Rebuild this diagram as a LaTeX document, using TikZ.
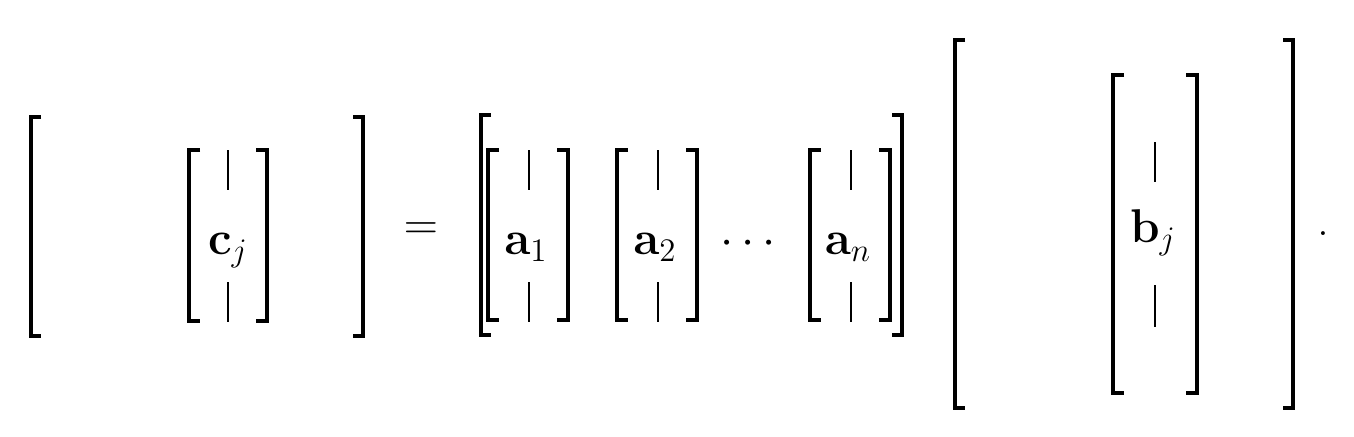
\documentclass[tikz,border=0pt]{standalone}
\usepackage{amsmath}
\usepackage{tikz}

\begin{document}
\begin{tikzpicture}[x=0.02cm,y=-0.02cm,
  brk/.style={line width=2.2pt,line join=miter},
  bar/.style={line width=1.3pt},
  every node/.style={font=\huge,scale=1.3,inner sep=0pt}]
  \useasboundingbox (0,0) rectangle (1354,436);
  % C
  \draw[brk] (41,117) -- (31,117) -- (31,336) -- (41,336);
  \draw[brk] (353,117) -- (363,117) -- (363,336) -- (353,336);
  \draw[brk] (200,150) -- (189,150) -- (189,321) -- (200,321);
  \draw[brk] (256,150) -- (267,150) -- (267,321) -- (256,321);
  \draw[bar] (228,150) -- (228,190);
  \draw[bar] (228,282) -- (228,322);
  \node[anchor=base] at (228,254) (cj) {$\mathbf{c}_j$};
  \node[anchor=base] at (421,239) (eq) {$=$};
  % A
  \draw[brk] (491,115) -- (481,115) -- (481,335) -- (491,335);
  \draw[brk] (892,115) -- (902,115) -- (902,335) -- (892,335);
  \foreach \x/\lab/\nm in {528/1/a1,657/2/a2,850/n/an} {
    \draw[brk] (\x-29,150) -- (\x-40,150) -- (\x-40,320) -- (\x-29,320);
    \draw[brk] (\x+29,150) -- (\x+40,150) -- (\x+40,320) -- (\x+29,320);
    \draw[bar] (\x+1,150) -- (\x+1,190);
    \draw[bar] (\x+1,282) -- (\x+1,322);
    \node[anchor=base] at (\x-2,254) (\nm) {$\mathbf{a}_\lab$};
  }
  \node[anchor=base,scale=1] at (752,254) (dots) {$\cdots$};
  % B
  \draw[brk] (965,40) -- (955,40) -- (955,408) -- (965,408);
  \draw[brk] (1283,40) -- (1293,40) -- (1293,408) -- (1283,408);
  \draw[brk] (1124,75) -- (1113,75) -- (1113,393) -- (1124,393);
  \draw[brk] (1186,75) -- (1197,75) -- (1197,393) -- (1186,393);
  \draw[bar] (1155,142) -- (1155,182);
  \draw[bar] (1155,285) -- (1155,327);
  \node[anchor=base] at (1153,242) (bj) {$\mathbf{b}_j$};
  \node[anchor=base] at (1323,235) (stop) {.};
\end{tikzpicture}
\end{document}
